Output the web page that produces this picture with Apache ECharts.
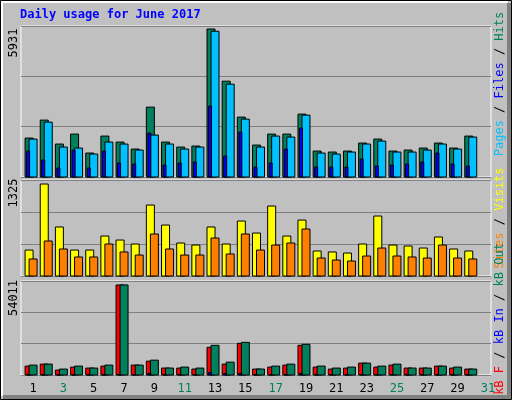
<!DOCTYPE html>
<html><head><meta charset="utf-8">
<script src="https://cdn.jsdelivr.net/npm/echarts@6/dist/echarts.min.js"></script>
<style>body{margin:0}#chart{width:512px;height:400px}</style>
</head><body><div id="chart"></div>
<script>
var days = [];
for (var d = 1; d <= 31; d++) days.push(String(d));
var weekend = ['3','4','10','11','17','18','24','25','31'];

var hits  = [1560,2280,1320,1720,960,1640,1400,1120,2800,1400,1200,1240,5931,3840,2400,1280,1720,1720,2520,1040,1000,1040,1360,1520,1040,1080,1160,1360,1160,1640];
var files = [1520,2200,1200,1160,920,1400,1320,1080,1680,1320,1120,1200,5840,3720,2320,1200,1640,1600,2480,960,920,1000,1320,1440,1000,1000,1080,1320,1120,1600];
var pages = [1040,680,360,1080,360,1040,560,520,1760,480,560,600,2840,840,1800,400,560,1120,1960,400,400,400,720,440,480,520,600,960,520,440];

var visits = [374,1325,706,374,374,576,518,461,1022,734,475,446,706,461,792,619,1008,576,806,360,346,331,461,864,446,432,403,562,389,360];
var sites  = [245,504,389,274,274,461,346,302,605,389,302,302,547,317,605,374,446,475,677,259,230,216,288,403,288,274,259,446,259,245];

var kbF   = [5341,6528,2967,4748,4154,5341,54011,5935,8309,4154,4154,3561,16617,6528,18991,3561,4748,5935,17804,4748,3561,4154,7121,4748,5935,4154,4154,5341,4154,3561];
var kbOut = [5935,6528,3561,5341,4154,5935,54011,5935,8902,4154,4748,4154,17804,7715,19583,3561,5341,6528,18396,5341,4154,4748,7121,5341,6528,4154,4154,5341,4748,3561];
var kbIn  = [200,200,150,200,150,200,300,200,900,200,200,200,1500,900,900,150,200,200,900,200,150,200,300,200,200,200,200,200,200,150];

var FONT = '"DejaVu Sans Mono", monospace';

function barSeries(data, idx, dx, w, color, z) {
  return {
    type: 'custom', xAxisIndex: idx, yAxisIndex: idx, z: z,
    data: data.map(function (v, i) { return [i, v]; }),
    renderItem: function (params, api) {
      var p = api.coord([api.value(0), api.value(1)]);
      var b = api.coord([api.value(0), 0]);
      return { type: 'rect', shape: { x: p[0] + dx, y: p[1], width: w, height: b[1] - p[1] },
        style: { fill: color, stroke: '#000', lineWidth: 1 } };
    }
  };
}

var tops = [26, 180, 281], heights = [151, 96, 94];
var maxes = [6051, 1383, 56385];
var grids = [], xAxes = [], yAxes = [];
for (var g = 0; g < 3; g++) {
  grids.push({ left: 21, right: 21, top: tops[g], height: heights[g], show: true,
    backgroundColor: 'transparent', borderColor: '#fff', borderWidth: 1 });
  xAxes.push({ type: 'category', gridIndex: g, data: days, boundaryGap: true,
    axisLine: { show: false }, axisTick: { show: false },
    axisLabel: { show: g === 2, margin: 8, padding: [0, 0, 0, 9], fontFamily: FONT, fontSize: 12,
      color: function (v) { return weekend.indexOf(v) >= 0 ? '#00805c' : '#000'; } } });
  yAxes.push({ type: 'value', gridIndex: g, min: 0, max: maxes[g], interval: maxes[g] / 3,
    axisLabel: { show: false }, axisLine: { show: false }, axisTick: { show: false },
    splitLine: { lineStyle: { color: '#808080', width: 1 } } });
}

function vtext(x, y, rich, text) {
  return { type: 'text', x: x, y: y, rotation: Math.PI / 2,
    style: { text: text, rich: rich, fontFamily: FONT, fontSize: 12, align: 'center', verticalAlign: 'middle', fill: '#000' } };
}
var rich = {
  pg: { fill: '#00c0ff', fontFamily: FONT, fontSize: 12 }, fi: { fill: '#0000ff', fontFamily: FONT, fontSize: 12 },
  hi: { fill: '#00805c', fontFamily: FONT, fontSize: 12 }, sl: { fill: '#000', fontFamily: FONT, fontSize: 12 },
  si: { fill: '#ff8000', fontFamily: FONT, fontSize: 12 }, vi: { fill: '#ffff00', fontFamily: FONT, fontSize: 12 },
  kf: { fill: '#ff0000', fontFamily: FONT, fontSize: 12 }, ki: { fill: '#0000ff', fontFamily: FONT, fontSize: 12 },
  ko: { fill: '#00805c', fontFamily: FONT, fontSize: 12 }
};

var option = {
  backgroundColor: '#c0c0c0',
  animation: false,
  grid: grids, xAxis: xAxes, yAxis: yAxes,
  graphic: [
    { type: 'rect', shape: { x: 0.5, y: 0.5, width: 511, height: 399 }, style: { fill: 'none', stroke: '#000', lineWidth: 1 }, z: 100 },
    { type: 'polyline', shape: { points: [[2, 396], [2, 2], [508, 2]] }, style: { fill: 'none', stroke: '#fff', lineWidth: 2 }, z: 100 },
    { type: 'polyline', shape: { points: [[509, 3], [509, 397], [3, 397]] }, style: { fill: 'none', stroke: '#808080', lineWidth: 4 }, z: 100 },
    { type: 'text', x: 20, y: 9, style: { text: 'Daily usage for June 2017', fontFamily: FONT, fontSize: 12, fontWeight: 'bold', fill: '#0000ff' } },
    vtext(14, 43, null, '5931'),
    vtext(14, 193, null, '1325'),
    vtext(14, 298, null, '54011'),
    vtext(500, 84, rich, '{pg|Pages}{sl| / }{fi|Files}{sl| / }{hi|Hits}'),
    vtext(500, 218, rich, '{si|Sites}{sl| / }{vi|Visits}'),
    vtext(500, 319, rich, '{kf|kB F}{sl| / }{ki|kB In}{sl| / }{ko|kB Out}')
  ],
  series: [
    barSeries(hits, 0, -3.5, 8, '#00805c', 2),
    barSeries(files, 0, 0.5, 8, '#00c0ff', 3),
    barSeries(pages, 0, -2, 3, '#0000ff', 4),
    barSeries(visits, 1, -3.5, 8, '#ffff00', 2),
    barSeries(sites, 1, 0.5, 8, '#ff8000', 3),
    barSeries(kbF, 2, -3.5, 8, '#ff0000', 2),
    barSeries(kbOut, 2, 0.5, 8, '#00805c', 3),
    barSeries(kbIn, 2, -2, 3, '#0000ff', 4)
  ]
};
echarts.init(document.getElementById('chart')).setOption(option);
</script></body></html>
